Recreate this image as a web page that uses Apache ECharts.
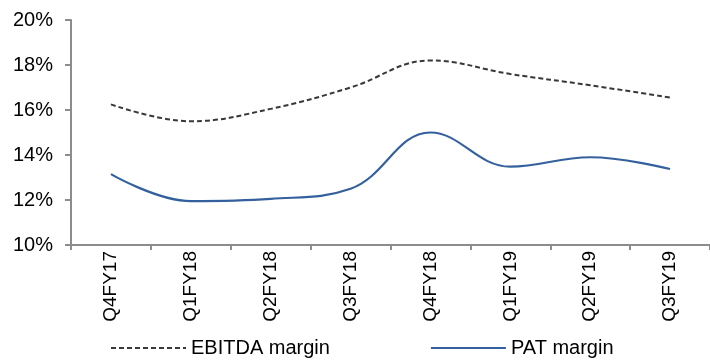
<!DOCTYPE html>
<html>
<head>
<meta charset="utf-8">
<script src="https://cdn.jsdelivr.net/npm/echarts@6/dist/echarts.min.js"></script>
<style>
  html, body { margin: 0; padding: 0; background: #fff; }
  #chart { width: 710px; height: 361px; }
</style>
</head>
<body>
<div id="chart"></div>
<script>
// 季度
const quarters = ['Q4FY17', 'Q1FY18', 'Q2FY18', 'Q3FY18', 'Q4FY18', 'Q1FY19', 'Q2FY19', 'Q3FY19'];
// margins in %
const ebitdaMargin = [16.25, 15.5, 16.05, 17.0, 18.2, 17.6, 17.1, 16.55];
const patMargin = [13.15, 11.95, 12.05, 12.5, 15.0, 13.48, 13.9, 13.38];
const yTicks = [10, 12, 14, 16, 18, 20];

let chart = echarts.init(document.getElementById('chart'));
const font = 'Liberation Sans, Arial, sans-serif';

chart.setOption({
    animation: false,
    textStyle: { fontFamily: font },
    grid: {
        left: 71,
        top: 20,
        width: 640,
        bottom: 116
    },
    legend: {
        left: 105,
        top: 333,
        itemWidth: 75,
        itemHeight: 4,
        itemGap: 100,
        itemStyle: { opacity: 0 },
        textStyle: { fontSize: 20, color: '#000', fontFamily: font },
        data: ['EBITDA margin', 'PAT margin']
    },
    xAxis: {
        type: 'category',
        data: quarters,
        boundaryGap: true,
        axisLine: { lineStyle: { color: '#8c8c8c', width: 2 } },
        axisTick: { show: true, length: 5, lineStyle: { color: '#8c8c8c', width: 2 } },
        axisLabel: { rotate: 90, margin: 6, fontSize: 19, color: '#000', fontFamily: font }
    },
    yAxis: {
        type: 'value',
        min: yTicks[0],
        max: yTicks[yTicks.length - 1],
        interval: 2,
        splitLine: { show: false },
        axisLine: { show: true, lineStyle: { color: '#8c8c8c', width: 2 } },
        axisTick: { show: true, length: 6, lineStyle: { color: '#8c8c8c', width: 2 } },
        axisLabel: { formatter: '{value}%', margin: 18, fontSize: 20, color: '#000', fontFamily: font }
    },
    series: [
        {
            name: 'EBITDA margin',
            type: 'line',
            data: ebitdaMargin,
            smooth: 0.4,
            symbol: 'none',
            itemStyle: { color: '#383838' },
            lineStyle: { color: '#383838', width: 2, type: [5, 3] }
        },
        {
            name: 'PAT margin',
            type: 'line',
            data: patMargin,
            smooth: 0.4,
            symbol: 'none',
            itemStyle: { color: '#34619e' },
            lineStyle: { color: '#34619e', width: 2.2 }
        }
    ]
});
</script>
</body>
</html>
